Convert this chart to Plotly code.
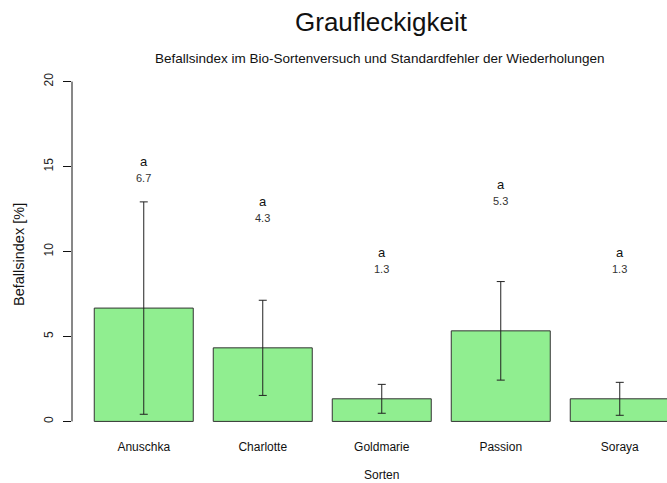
import plotly.graph_objects as go

# Sortenversuch: mittlerer Befallsindex und Standardfehler
sorten = ["Anuschka", "Charlotte", "Goldmarie", "Passion", "Soraya"]
befall = [6.67, 4.33, 1.33, 5.33, 1.33]
std_fehler = [6.25, 2.8, 0.85, 2.9, 0.97]
gruppen = ["a", "a", "a", "a", "a"]
labels = ["6.7", "4.3", "1.3", "5.3", "1.3"]

W, H = 667, 483
ML, MR, MT, MB = 72, 0, 68, 48
FONT = "Liberation Sans, Arial, sans-serif"


def px(x, y):
    """Pixelposition im Bild -> paper-Koordinaten der Plotfläche."""
    return (x - ML) / (W - ML - MR), (H - MB - y) / (H - MT - MB)


def text_at(x, y, text, size, angle=0):
    xp, yp = px(x, y)
    fig.add_annotation(x=xp, y=yp, xref="paper", yref="paper", text=text,
                       xanchor="center", yanchor="middle", textangle=angle,
                       showarrow=False,
                       font=dict(family=FONT, size=size, color="#111111"))


fig = go.Figure()

fig.add_trace(go.Bar(
    x=sorten, y=befall,
    marker=dict(color="#90EE90", line=dict(color="#333333", width=1)),
    error_y=dict(type="data", array=std_fehler, visible=True,
                 color="#222222", thickness=1, width=4),
    showlegend=False, hoverinfo="x+y",
))

# Buchstaben (Signifikanzgruppen) und Mittelwerte über den Balken
for s, m, g, lab in zip(sorten, befall, gruppen, labels):
    fig.add_annotation(x=s, y=m + 8.6, text=g, showarrow=False,
                       font=dict(family=FONT, size=13, color="#111111"))
    fig.add_annotation(x=s, y=m + 7.65, text=lab, showarrow=False,
                       font=dict(family=FONT, size=11, color="#333333"))

# Titel, Untertitel, Achsenbeschriftungen
text_at(381, 22, "Graufleckigkeit", 26)
text_at(380, 59, "Befallsindex im Bio-Sortenversuch und Standardfehler der Wiederholungen", 13.5)
text_at(381, 475, "Sorten", 12)
text_at(19, 255, "Befallsindex [%]", 14.5, angle=-90)

# R-artige y-Achse: Linie nur von 0 bis 20
fig.add_shape(type="line", xref="paper", yref="y", x0=0, x1=0, y0=0, y1=20,
              line=dict(color="#111111", width=1))

fig.update_layout(
    width=W, height=H,
    margin=dict(l=ML, r=MR, t=MT, b=MB),
    plot_bgcolor="white", paper_bgcolor="white",
    bargap=0.168,
    font=dict(family=FONT, size=12, color="#111111"),
)
fig.update_xaxes(range=[-0.603, 4.397], showline=False, showgrid=False,
                 zeroline=False, ticks="", ticklabelstandoff=3,
                 tickfont=dict(size=12))
fig.update_yaxes(range=[-0.8, 20.8], tickvals=[0, 5, 10, 15, 20],
                 ticks="outside", ticklen=8, tickcolor="#111111",
                 ticklabelstandoff=5,
                 tickangle=-90, showgrid=False, zeroline=False, showline=False,
                 tickfont=dict(size=12, color="#222222"))

fig.write_html("out.html", config={"displayModeBar": False},
               post_script="document.body.style.margin='0px';")
